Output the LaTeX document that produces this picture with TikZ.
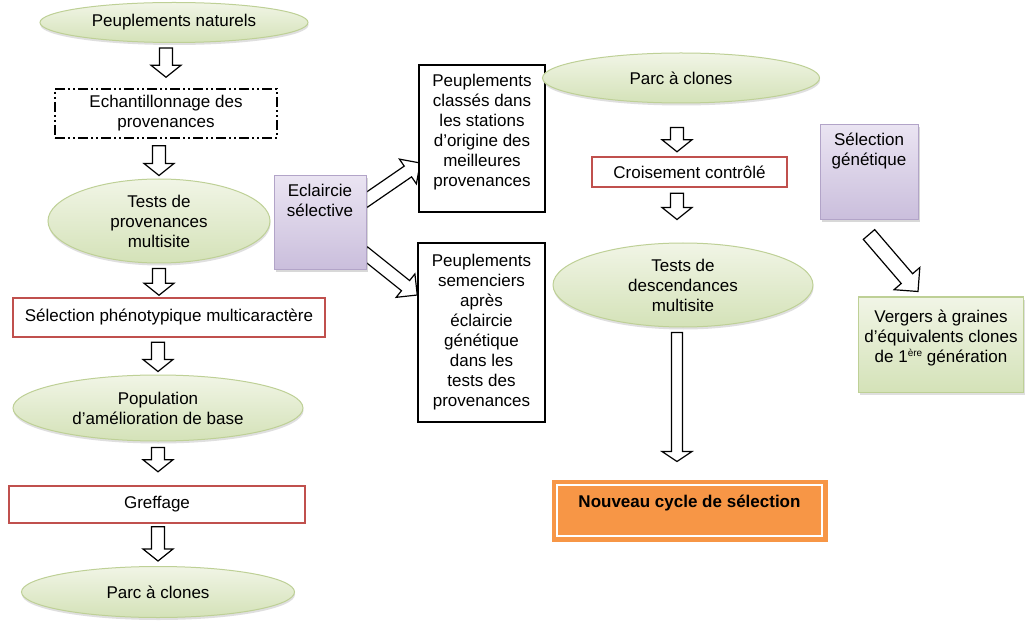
\documentclass[tikz,border=0pt]{standalone}
\usepackage{fontspec}
\setmainfont{Liberation Sans}
\usetikzlibrary{shapes.geometric,calc,shadows}
\definecolor{gfill1}{RGB}{241,245,230}
\definecolor{gfill2}{RGB}{212,226,184}
\definecolor{gline}{RGB}{190,208,150}
\definecolor{pfill1}{RGB}{234,228,242}
\definecolor{pfill2}{RGB}{202,190,220}
\definecolor{pline}{RGB}{178,164,200}
\definecolor{redl}{RGB}{192,80,77}
\definecolor{orangef}{RGB}{247,150,70}
\pgfdeclarelayer{bg}
\pgfsetlayers{bg,main}
% #1 shaft half width, #2 head half width, #3 head length, #4 from, #5 to
\newcommand\blockarrow[5]{%
  \coordinate (ba) at (#4);
  \coordinate (bb) at (#5);
  \coordinate (bh) at ($(bb)!#3!(ba)$);
  \draw[barrowstyle] ($(ba)!#1!90:(bb)$) -- ($(bh)!#1!90:(bb)$) -- ($(bh)!#2!90:(bb)$) -- (bb)
    -- ($(bh)!#2!-90:(bb)$) -- ($(bh)!#1!-90:(bb)$) -- ($(ba)!#1!-90:(bb)$) -- cycle;
}
\begin{document}
\begin{tikzpicture}[x=1pt,y=-1pt,
  every node/.style={font=\fontsize{17}{20}\selectfont, align=center, inner sep=0pt},
  ell/.style={ellipse, draw=gline, line width=1pt, top color=gfill1, bottom color=gfill2,
    drop shadow={shadow xshift=0.5pt, shadow yshift=-2.5pt, opacity=0.25}},
  redbox/.style={rectangle, draw=redl, line width=2.5pt, fill=white},
  blkbox/.style={rectangle, draw=black, line width=1.5pt, fill=white},
  purbox/.style={rectangle, draw=pline, line width=1pt, top color=pfill1, bottom color=pfill2,
    drop shadow={shadow xshift=1.5pt, shadow yshift=-2.5pt, opacity=0.3}},
  grnbox/.style={rectangle, draw=gline, line width=1pt, top color=gfill1, bottom color=gfill2,
    drop shadow={shadow xshift=1.5pt, shadow yshift=-2.5pt, opacity=0.25}},
  barrowstyle/.style={draw=black, fill=white, line width=1.2pt, line join=miter}
]
\useasboundingbox (0,0) rectangle (1025,628);
\begin{pgfonlayer}{bg}
  \fill[white] (0,0) rectangle (1025,628);
\end{pgfonlayer}

% left column
\node[ell, minimum width=268, minimum height=40] (e1) at (174,22.5) {Peuplements naturels};
\node[rectangle, draw=black, line width=1.5pt, fill=white,
  dash pattern=on 10pt off 3pt on 2pt off 3pt on 2pt off 3pt,
  minimum width=222, minimum height=49] (ech) at (166,113.5) {Echantillonnage des\\provenances};
\node[ell, minimum width=222, minimum height=84] (e2) at (159,221) {Tests de\\provenances\\multisite};
\node[redbox, minimum width=312, minimum height=39] (sel) at (169,317.5) {Sélection phénotypique multicaractère};
\node[ell, minimum width=290, minimum height=66] (e3) at (158,408) {Population\\d’amélioration de base};
\node[redbox, minimum width=296, minimum height=37] (gref) at (157,504.5) {Greffage};
\node[ell, minimum width=273, minimum height=51] (e4) at (158,592) {Parc à clones};

% middle
\node[purbox, minimum width=92, minimum height=94,
  label={[anchor=north, yshift=-8pt]north:Eclaircie\\sélective}] (ecl) at (320,223) {};
\node[blkbox, minimum width=126, minimum height=147,
  label={[yshift=6pt]center:Peuplements\\classés dans\\les stations\\d’origine des\\meilleures\\provenances}] (cl) at (482,138.5) {};
\node[blkbox, minimum width=127, minimum height=179] (sem) at (481.5,332.5)
  {Peuplements\\semenciers\\après\\éclaircie\\génétique\\dans les\\tests des\\provenances};

% right column
\node[ell, minimum width=277, minimum height=50] (ep) at (681,78) {Parc à clones};
\node[redbox, minimum width=195, minimum height=30] (croi) at (689.5,172) {Croisement contrôlé};
\node[ell, minimum width=260, minimum height=84] (etd) at (683,285) {Tests de\\descendances\\multisite};
\node[rectangle, fill=orangef, draw=orangef, line width=1pt, minimum width=275, minimum height=61,
  label={[yshift=7.5pt, font=\bfseries\fontsize{17}{20}\selectfont]center:Nouveau cycle de sélection}] (nc) at (689.5,510.5) {};
\draw[white, line width=1.5pt] ($(nc.south west)+(5.5,-5.5)$) rectangle ($(nc.north east)+(-5.5,5.5)$);

\node[purbox, minimum width=98, minimum height=95,
  label={[anchor=north, yshift=-8pt]north:Sélection\\génétique}] (sg) at (869,172.5) {};
\node[grnbox, minimum width=165, minimum height=95,
  label={[yshift=6.5pt]center:Vergers à graines\\d’équivalents clones\\de 1\raisebox{6pt}{\fontsize{10}{10}\selectfont ère} génération}] (verg) at (941,344.5) {};

% block arrows
\begin{pgfonlayer}{bg}
\blockarrow{6.5pt}{15pt}{12pt}{$(e1.south -| ech.north)+(0,5)$}{$(ech.north)+(0,-11)$}
\blockarrow{6.5pt}{15pt}{12pt}{$(ech.south -| e2.north)+(0,7)$}{$(e2.north)+(0,-3)$}
\blockarrow{6.5pt}{15pt}{12pt}{$(e2.south)+(0,5)$}{$(e2.south |- sel.north)+(0,-1.5)$}
\blockarrow{6.5pt}{15pt}{12pt}{$(sel.south -| e3.north)+(0,4)$}{$(e3.north)+(0,-3)$}
\blockarrow{6.5pt}{15pt}{12pt}{$(e3.south)+(0,6)$}{$(e3.south |- gref.north)+(0,-13)$}
\blockarrow{6.5pt}{15pt}{12pt}{$(gref.south -| e4.north)+(0,2.5)$}{$(e4.north)+(0,-5)$}

\blockarrow{6.5pt}{15pt}{12pt}{$(ep.south)+(-4,24)$}{$(croi.north -| ep.south)+(-4,-4)$}
\blockarrow{6.5pt}{15pt}{12pt}{$(croi.south -| etd.north)+(-6,5)$}{$(etd.north)+(-6,-23)$}
\blockarrow{5.5pt}{15pt}{10pt}{$(etd.south)+(-6,5)$}{$(etd.south |- nc.north)+(-6,-18)$}

\blockarrow{6.5pt}{15pt}{15pt}{$(ecl.east)+(-3,-21)$}{$(cl.west)+(2,24.5)$}
\blockarrow{6.5pt}{15pt}{15pt}{$(ecl.east)+(-3,29)$}{$(sem.west)+(0,-37.5)$}
\blockarrow{7.5pt}{17pt}{17pt}{$(sg.south)+(0,14)$}{$(verg.north)+(-23,-5)$}
\end{pgfonlayer}
\end{tikzpicture}
\end{document}
